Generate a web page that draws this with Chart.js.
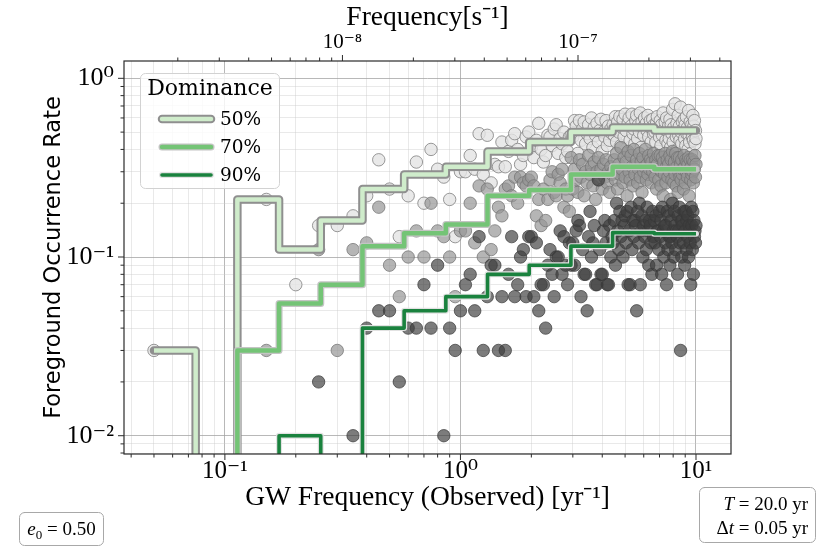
<!DOCTYPE html>
<html>
<head>
<meta charset="utf-8">
<script src="https://cdn.jsdelivr.net/npm/chart.js@4/dist/chart.umd.min.js"></script>
<style>
html,body{margin:0;padding:0;background:#ffffff;}
#wrap{position:relative;width:830px;height:554px;}
</style>
</head>
<body>
<div id="wrap"><canvas id="c" width="830" height="554"></canvas></div>
<script>
// ---------------- DATA ----------------
const T_YR = 20.0;          // observation span
const DT_YR = 0.05;         // cadence
const N_FREQ = 200;         // harmonics k = 1..200  (f = k / T)
const N_BINS = 13;          // log bins between 1/T and 1/(2 dt)

const dominanceLabels = ['50%', '70%', '90%'];

// foreground occurrence rate per harmonic, in percent (0 = none)
const rate50 = [
  3, 0,21, 7,15,15,17,22,35,24,
 13,22,34,20,40,31,28,21,13,30,
 30,37,31,49,29,48,26,33,32,44,
 32,39,45,49,40,33,37,47,50,41,
 36,45,56,40,34,37,48,47,42,52,
 55,38,46,43,50,36,39,47,48,47,
 58,54,38,58,45,52,57,43,49,55,
 46,60,41,53,48,56,44,51,59,39,
 50,47,58,42,54,45,52,49,55,48,
 61,44,57,50,61,42,53,59,47,63,
 51,38,56,60,45,54,63,49,52,43,
 58,62,46,55,50,64,41,57,53,48,
 60,35,56,51,62,47,54,58,44,52,
 59,49,55,50,44,56,61,39,53,47,
 58,42,55,48,64,36,52,57,45,60,
 51,43,54,46,59,41,55,49,67,44,
 53,38,72,51,47,56,40,62,48,54,
 45,69,50,43,57,34,52,59,46,55,
 42,61,49,53,40,66,48,44,57,51,
 38,55,47,62,45,54,58,43,51,46];
const rate70 = [
  0, 0, 3, 0,11, 3,11,12,19, 9,
  6,10,14,10,20,14,13,10, 6,14,
 14,20,12,25,10,24,11,14,19,17,
 24,25,22,28,20,28,26,25,27,28,
 25,17,21,15,24,16,21,27,30,23,
 22,29,26,31,19,24,22,18,36,24,
 31,27,23,35,28,33,22,30,26,37,
 29,32,25,34,21,30,36,27,31,24,
 33,28,35,26,30,23,32,29,30,35,
 27,38,24,33,29,41,31,26,36,28,
 34,22,39,30,27,37,32,25,40,29,
 33,35,26,31,38,28,34,23,36,30,
 32,40,27,33,29,37,31,35,26,34,
 30,38,32,28,35,24,33,37,27,31,
 37,25,30,36,22,34,29,38,26,32,
 35,28,33,30,37,21,35,27,39,31,
 26,34,29,38,25,32,36,23,30,36,
 28,33,27,35,29,31,24,37,32,26,
 35,30,34,28,33,36,22,31,35,27,
 32,29,35,30,26,34,31,37,28,33];
const rate90 = [
  0, 0, 0, 0, 2, 0, 1, 4, 5, 5,
  2, 4, 4, 7, 4, 9, 1, 4, 3, 5,
  7, 8, 5,13, 3, 6, 9, 9, 3, 6,
  3, 8,13, 6, 7,10,11, 6,13,13,
  6,12, 5, 7, 7, 4, 9,11, 8, 6,
 10,10,14, 8,13, 9, 7,12, 9,12,
  9,14,16,15, 6,11, 8, 8, 5,13,
 18,10,12,15, 7, 7,27,11, 8, 8,
 14,16,12, 7, 7,15,10,13,12,16,
  9,20,14,11,18,13,16,10,15,17,
 12,18, 7,14, 7,19,11,16,13,16,
 15, 5,18,12,20, 7,14,17,10,15,
 13,16,11,19,14, 9,16,15,12, 8,
 18,13,16,12,17, 9,14,14,11,18,
 13,16, 8,19,14,10,15,12,15, 7,
 18,11,17,13, 9,13,16,12,20,14,
 10,18,15,11,14,13, 8,17,14,19,
 12, 3,16,10,16,15,12,18, 9,14,
 18,11,16,13,17,10,15,14,12, 7,
 19,15,11,18, 8,16,13,14,12,15];

// binned mean occurrence rate, percent (0 = empty bin)
const binRate50 = [3, 0, 21, 11, 16, 24, 29, 32, 39, 44, 50, 53, 51];
const binRate70 = [0, 0, 3, 5.5, 7, 11.5, 13.6, 15.2, 22, 23.7, 29, 32, 31];
const binRate90 = [0, 0, 0, 1, 0, 4, 5, 6, 8, 9, 11.5, 13.7, 13.5];

// axis ranges and ticks
const xRange = [0.0373, 14.08];
const yRange = [0.0079, 1.25];
const xMajorTicks = [0.1, 1, 10];
const xTickLabels = ['10\u207B\u00B9', '10\u2070', '10\u00B9'];
const yMajorTicks = [0.01, 0.1, 1];
const yTickLabels = ['10\u207B\u00B2', '10\u207B\u00B9', '10\u2070'];
const topMajorTicks = [1e-8, 1e-7];
const topTickLabels = ['10\u207B\u2078', '10\u207B\u2077'];

// ---------------- DERIVED ----------------
const YR_TO_HZ = 1 / (365.25 * 86400);
const freqs = Array.from({length: N_FREQ}, (_, i) => (i + 1) / T_YR);
const fLo = 1 / T_YR, fHi = 1 / (2 * DT_YR);
const binEdges = Array.from({length: N_BINS + 1}, (_, i) => fLo * Math.pow(fHi / fLo, i / N_BINS));

function minorTicks(lo, hi) {
  const out = [];
  for (let e = Math.floor(Math.log10(lo)); e <= Math.ceil(Math.log10(hi)); e++) {
    for (let m = 1; m <= 9; m++) {
      const v = m * Math.pow(10, e);
      if (v >= lo * 0.999 && v <= hi * 1.001) out.push({value: v, major: m === 1});
    }
  }
  return out;
}
function labelFor(list, labels, v) {
  for (let i = 0; i < list.length; i++) if (Math.abs(list[i] - v) / list[i] < 1e-6) return labels[i];
  return '';
}
function scatterPts(arr) {
  const out = [];
  arr.forEach((p, i) => { if (p > 0) out.push({x: freqs[i], y: p / 100}); });
  return out;
}
function stepPts(arr) {
  const out = arr.map((v, i) => ({x: binEdges[i], y: v > 0 ? v / 100 : 1e-6}));
  out.push({x: binEdges[N_BINS], y: out[N_BINS - 1].y});
  return out;
}

const lineStyles = [
  {main: '#cfeccb', halo: '#8f8f8f', w: 4.5, hw: 8.5},
  {main: '#74c476', halo: '#c4c4c4', w: 4.5, hw: 7},
  {main: '#1a823e', halo: '#e2e2e2', w: 3.6, hw: 6}
];
const binSets = [binRate50, binRate70, binRate90];

const datasets = [
  {label: 'pts50', data: scatterPts(rate50), backgroundColor: 'rgba(228,228,228,0.8)', borderColor: 'rgba(128,128,128,0.8)', borderWidth: 1, pointRadius: 6.2, order: 30},
  {label: 'pts70', data: scatterPts(rate70), backgroundColor: 'rgba(150,150,150,0.7)', borderColor: 'rgba(115,115,115,0.75)', borderWidth: 1, pointRadius: 6.2, order: 20},
  {label: 'pts90', data: scatterPts(rate90), backgroundColor: 'rgba(62,62,62,0.68)', borderColor: 'rgba(55,55,55,0.7)', borderWidth: 1, pointRadius: 6.2, order: 10}
];
binSets.forEach((b, i) => {
  const s = lineStyles[i];
  datasets.push({label: 'halo' + dominanceLabels[i], data: stepPts(b), showLine: true, stepped: 'before',
    borderColor: s.halo, borderWidth: s.hw, pointRadius: 0, fill: false, clip: 0,
    borderJoinStyle: 'round', borderCapStyle: 'round', order: 6 - 2 * i});
  datasets.push({label: dominanceLabels[i], data: stepPts(b), showLine: true, stepped: 'before',
    borderColor: s.main, borderWidth: s.w, pointRadius: 0, fill: false, clip: 0,
    borderJoinStyle: 'round', borderCapStyle: 'butt', order: 5 - 2 * i});
});

// ---------------- PLUGINS ----------------
function rrect(ctx, x, y, w, h, r) {
  ctx.beginPath();
  ctx.moveTo(x + r, y); ctx.lineTo(x + w - r, y); ctx.arcTo(x + w, y, x + w, y + r, r);
  ctx.lineTo(x + w, y + h - r); ctx.arcTo(x + w, y + h, x + w - r, y + h, r);
  ctx.lineTo(x + r, y + h); ctx.arcTo(x, y + h, x, y + h - r, r);
  ctx.lineTo(x, y + r); ctx.arcTo(x, y, x + r, y, r); ctx.closePath();
}
function drawRuns(ctx, runs, x, y, align) {
  let total = 0;
  runs.forEach(r => { ctx.font = (r.it ? 'italic ' : '') + (r.size || 19) + 'px "Liberation Serif", serif'; r.w = ctx.measureText(r.t).width; total += r.w; });
  let cx = align === 'right' ? x - total : (align === 'center' ? x - total / 2 : x);
  ctx.textAlign = 'left'; ctx.textBaseline = 'alphabetic';
  runs.forEach(r => { ctx.font = (r.it ? 'italic ' : '') + (r.size || 19) + 'px "Liberation Serif", serif'; ctx.fillText(r.t, cx, y + (r.dy || 0)); cx += r.w; });
}

const decorPlugin = {
  id: 'decor',
  afterDatasetsDraw(chart) {
    const ctx = chart.ctx, a = chart.chartArea;
    ctx.save();
    ctx.strokeStyle = '#2b2b2b'; ctx.lineWidth = 1.2;
    ctx.strokeRect(a.left, a.top, a.right - a.left, a.bottom - a.top);
    ctx.lineWidth = 1;
    const sx = chart.scales.x, sy = chart.scales.y, st = chart.scales.x2;
    sx.ticks.forEach(t => { const p = sx.getPixelForValue(t.value); const L = t.major ? 6 : 3.5;
      ctx.beginPath(); ctx.moveTo(p, a.bottom); ctx.lineTo(p, a.bottom + L); ctx.stroke(); });
    st.ticks.forEach(t => { const p = st.getPixelForValue(t.value); const L = t.major ? 6 : 3.5;
      ctx.beginPath(); ctx.moveTo(p, a.top); ctx.lineTo(p, a.top - L); ctx.stroke(); });
    sy.ticks.forEach(t => { const p = sy.getPixelForValue(t.value); const L = t.major ? 6 : 3.5;
      ctx.beginPath(); ctx.moveTo(a.left, p); ctx.lineTo(a.left - L, p); ctx.stroke(); });
    ctx.restore();
  },
  afterDraw(chart) {
    const ctx = chart.ctx;
    ctx.save();
    rrect(ctx, 140.5, 73.5, 139, 115, 5);
    ctx.fillStyle = 'rgba(255,255,255,0.82)'; ctx.fill();
    ctx.strokeStyle = '#d2d2d2'; ctx.lineWidth = 1; ctx.stroke();
    ctx.fillStyle = '#000'; ctx.textAlign = 'center'; ctx.textBaseline = 'middle';
    ctx.font = '22px "DejaVu Serif", serif';
    ctx.fillText('Dominance', 210, 89);
    const rows = [119, 147, 175];
    rows.forEach((yy, i) => {
      const s = lineStyles[i];
      ctx.lineCap = 'round';
      ctx.strokeStyle = s.halo; ctx.lineWidth = s.hw;
      ctx.beginPath(); ctx.moveTo(162, yy); ctx.lineTo(211, yy); ctx.stroke();
      ctx.strokeStyle = s.main; ctx.lineWidth = s.w;
      ctx.beginPath(); ctx.moveTo(162, yy); ctx.lineTo(211, yy); ctx.stroke();
      ctx.fillStyle = '#000'; ctx.textAlign = 'left'; ctx.textBaseline = 'middle';
      ctx.font = '18.5px "DejaVu Serif", serif';
      ctx.fillText(dominanceLabels[i], 220, yy + 1);
    });
    ctx.lineWidth = 1; ctx.strokeStyle = '#a8a8a8'; ctx.fillStyle = '#ffffff';
    rrect(ctx, 19.5, 512.5, 84, 33, 5); ctx.fill(); ctx.stroke();
    rrect(ctx, 699.5, 487.5, 116, 55, 5); ctx.fill(); ctx.stroke();
    ctx.fillStyle = '#000';
    drawRuns(ctx, [{t: 'e', it: true}, {t: '0', size: 13, dy: 4}, {t: ' = 0.50'}], 61.5, 535, 'center');
    drawRuns(ctx, [{t: 'T', it: true}, {t: ' = 20.0 yr'}], 808, 510, 'right');
    drawRuns(ctx, [{t: '\u0394'}, {t: 't', it: true}, {t: ' = 0.05 yr'}], 808, 534, 'right');
    ctx.restore();
  }
};

const gridColor = (ctx) => (ctx.tick && ctx.tick.major) ? 'rgba(160,160,160,0.75)' : 'rgba(200,200,200,0.4)';

new Chart(document.getElementById('c'), {
  type: 'scatter',
  data: {datasets},
  options: {
    responsive: false, animation: false, devicePixelRatio: 1,
    layout: {padding: {left: 0, right: 99, top: 0, bottom: 0}},
    plugins: {legend: {display: false}, tooltip: {enabled: false}},
    scales: {
      x: {
        type: 'logarithmic', position: 'bottom', min: xRange[0], max: xRange[1],
        afterBuildTicks: s => { s.ticks = minorTicks(xRange[0], xRange[1]); },
        afterFit: s => { s.height = 100; },
        grid: {color: gridColor, lineWidth: 1, drawTicks: false},
        border: {display: false},
        ticks: {autoSkip: false, maxRotation: 0, padding: 2, color: '#000',
          font: {family: '"Liberation Serif", "DejaVu Serif", serif', size: 25},
          callback: v => labelFor(xMajorTicks, xTickLabels, v)},
        title: {display: true, text: 'GW Frequency (Observed) [yr\u207B\u00B9]', color: '#000',
          font: {family: '"Liberation Serif", serif', size: 27.5}, padding: {top: 0, bottom: 40}}
      },
      x2: {
        type: 'logarithmic', position: 'top', min: xRange[0] * YR_TO_HZ, max: xRange[1] * YR_TO_HZ,
        afterBuildTicks: s => { s.ticks = minorTicks(xRange[0] * YR_TO_HZ, xRange[1] * YR_TO_HZ); },
        afterFit: s => { s.height = 61; },
        grid: {drawOnChartArea: false, drawTicks: false},
        border: {display: false},
        ticks: {autoSkip: false, maxRotation: 0, padding: 6, color: '#000',
          font: {family: '"Liberation Serif", "DejaVu Serif", serif', size: 21},
          callback: v => labelFor(topMajorTicks, topTickLabels, v)},
        title: {display: true, text: 'Frequency[s\u207B\u00B9]', color: '#000',
          font: {family: '"Liberation Serif", serif', size: 27.5}, padding: {top: 1, bottom: 0}}
      },
      y: {
        type: 'logarithmic', position: 'left', min: yRange[0], max: yRange[1],
        afterBuildTicks: s => { s.ticks = minorTicks(yRange[0], yRange[1]); },
        afterFit: s => { s.width = 124; },
        grid: {color: gridColor, lineWidth: 1, drawTicks: false},
        border: {display: false},
        ticks: {autoSkip: false, padding: 10, color: '#000',
          font: {family: '"Liberation Serif", "DejaVu Serif", serif', size: 26},
          callback: v => labelFor(yMajorTicks, yTickLabels, v)},
        title: {display: true, text: 'Foreground Occurrence Rate', color: '#000',
          font: {family: '"DejaVu Sans", sans-serif', size: 22.5}, padding: {top: 41, bottom: 0}}
      }
    }
  },
  plugins: [decorPlugin]
});
</script>
</body>
</html>
